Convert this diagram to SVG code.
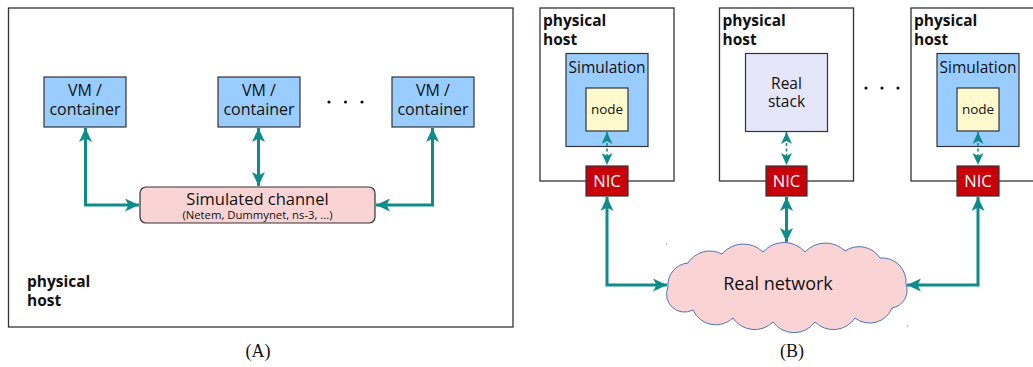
<svg xmlns="http://www.w3.org/2000/svg" width="1033" height="367" viewBox="0 0 1033 367">
<defs>
<style>
.host{fill:#fff;stroke:#333;stroke-width:1.3}
.vm{fill:#99ccff;stroke:#333;stroke-width:1.2}
.chan{fill:#fad4d4;stroke:#333;stroke-width:1.2}
.node{fill:#fffacd;stroke:#333;stroke-width:1.2}
.real{fill:#e6e6fa;stroke:#333;stroke-width:1.2}
.nic{fill:#c8000a;stroke:#333;stroke-width:1.2}
.t{font-family:"Open Sans","Noto Sans",sans-serif;fill:#111;text-anchor:middle}
.w{font-family:"Open Sans","Noto Sans",sans-serif;fill:#fff;text-anchor:middle;font-size:16.5px}
.b{font-family:"Open Sans","Noto Sans",sans-serif;font-weight:bold;fill:#111;font-size:15.5px}
.cap{font-family:"Liberation Serif",serif;font-size:18px;fill:#111;text-anchor:middle}
.arr{fill:none;stroke:#0e8c8c;stroke-width:3;marker-start:url(#ah);marker-end:url(#ah)}
.darr{fill:none;stroke:#0e8c8c;stroke-width:1.6;stroke-dasharray:3 2.5;marker-start:url(#ahs);marker-end:url(#ahs)}
</style>
<marker id="ah" markerUnits="userSpaceOnUse" markerWidth="15" markerHeight="13" refX="14" refY="6.5" orient="auto-start-reverse">
<path d="M0,0 L14,6.5 L0,13 L3.5,6.5 z" fill="#0e8c8c"/>
</marker>
<marker id="ahs" markerUnits="userSpaceOnUse" markerWidth="13" markerHeight="11" refX="12" refY="5.5" orient="auto-start-reverse">
<path d="M0,0 L12,5.5 L0,11 L3,5.5 z" fill="#0e8c8c"/>
</marker>
</defs>
<rect width="1033" height="367" fill="#fff"/>

<!-- Panel A -->
<g id="hostA">
<rect class="host" x="8.5" y="8" width="504.5" height="319"/>
<text class="b" x="27" y="287">physical</text>
<text class="b" x="27" y="306">host</text>
</g>
<g id="vm1">
<rect class="vm" x="44" y="77" width="82" height="50"/>
<text class="t" font-size="16" x="85" y="95.5">VM /</text>
<text class="t" font-size="16" x="85" y="115">container</text>
</g>
<g id="vm2">
<rect class="vm" x="218" y="77" width="82" height="50"/>
<text class="t" font-size="16" x="259" y="95.5">VM /</text>
<text class="t" font-size="16" x="259" y="115">container</text>
</g>
<g id="vm3">
<rect class="vm" x="392" y="77" width="82" height="50"/>
<text class="t" font-size="16" x="433" y="95.5">VM /</text>
<text class="t" font-size="16" x="433" y="115">container</text>
</g>
<g id="dotsA" fill="#111">
<circle cx="329" cy="102" r="1.6"/><circle cx="345.5" cy="102" r="1.6"/><circle cx="362" cy="102" r="1.6"/>
</g>
<g id="channel">
<rect class="chan" x="140" y="187" width="235" height="36" rx="6"/>
<text class="t" font-size="16.5" x="257.5" y="204.5">Simulated channel</text>
<text class="t" font-size="11.3" x="257.5" y="219">(Netem, Dummynet, ns-3, ...)</text>
</g>
<text class="cap" x="258" y="357">(A)</text>

<!-- Panel B -->
<g id="host1">
<rect class="host" x="540" y="8" width="134" height="173"/>
<text class="b" x="543" y="26">physical</text>
<text class="b" x="543" y="45">host</text>
<rect class="vm" x="566" y="53.5" width="82" height="93"/>
<text class="t" font-size="15.5" x="607" y="73">Simulation</text>
<rect class="node" x="586" y="88" width="42" height="43"/>
<text class="t" font-size="13.5" x="607" y="114">node</text>
</g>
<g id="nic1">
<rect class="nic" x="586" y="166" width="42" height="30"/>
<text class="w" x="607" y="187">NIC</text>
</g>
<g id="host2">
<rect class="host" x="719.5" y="8" width="134" height="173"/>
<text class="b" x="722.5" y="26">physical</text>
<text class="b" x="722.5" y="45">host</text>
<rect class="real" x="745.5" y="53.5" width="82" height="78"/>
<text class="t" font-size="15.5" x="786.5" y="88.5">Real</text>
<text class="t" font-size="15.5" x="786.5" y="107">stack</text>
</g>
<g id="nic2">
<rect class="nic" x="766" y="166" width="41" height="30"/>
<text class="w" x="786.5" y="187">NIC</text>
</g>
<g id="dotsB" fill="#111">
<circle cx="866" cy="88" r="1.6"/><circle cx="882" cy="88" r="1.6"/><circle cx="898" cy="88" r="1.6"/>
</g>
<g id="host3">
<rect class="host" x="911" y="8" width="140" height="173"/>
<text class="b" x="914" y="26">physical</text>
<text class="b" x="914" y="45">host</text>
<rect class="vm" x="937" y="53.5" width="82" height="93"/>
<text class="t" font-size="15.5" x="978" y="73">Simulation</text>
<rect class="node" x="957" y="88" width="42" height="43"/>
<text class="t" font-size="13.5" x="978" y="114">node</text>
</g>
<g id="nic3">
<rect class="nic" x="957" y="166" width="42" height="30"/>
<text class="w" x="978" y="187">NIC</text>
</g>
<g id="cloud">
<path d="M668,287 A22,22 0 0 1 688,263 A26,26 0 0 1 722,254 A28,28 0 0 1 763,252 A28,28 0 0 1 805,252 A28,28 0 0 1 845,251 A25,25 0 0 1 880,258 A24,24 0 0 1 906,284 A18,18 0 0 1 892,308 A24,24 0 0 1 855,318 A26,26 0 0 1 815,322 A26,26 0 0 1 773,322 A26,26 0 0 1 733,318 A25,25 0 0 1 693,310 A18,18 0 0 1 668,287 Z" fill="#fad4d4" stroke="#4f74b8" stroke-width="1"/>
<text class="t" font-size="18" x="778" y="290">Real network</text>
<rect x="666" y="243.5" width="1" height="1" fill="#4f74b8"/>
<rect x="907" y="325.5" width="1" height="1" fill="#4f74b8"/>
</g>
<text class="cap" x="792" y="357">(B)</text>

<g id="connectors">
<path class="arr" d="M85.5,128 V205 H139"/>
<path class="arr" d="M258.5,128 V186"/>
<path class="arr" d="M432.5,128 V205 H376"/>
<path class="darr" d="M607,132 V165"/>
<path class="darr" d="M786.5,132 V165"/>
<path class="darr" d="M978,132 V165"/>
<path class="arr" d="M607,197 V285 H667"/>
<path class="arr" d="M786.5,197 V242"/>
<path class="arr" d="M978,197 V285 H907"/>
</g>
</svg>
